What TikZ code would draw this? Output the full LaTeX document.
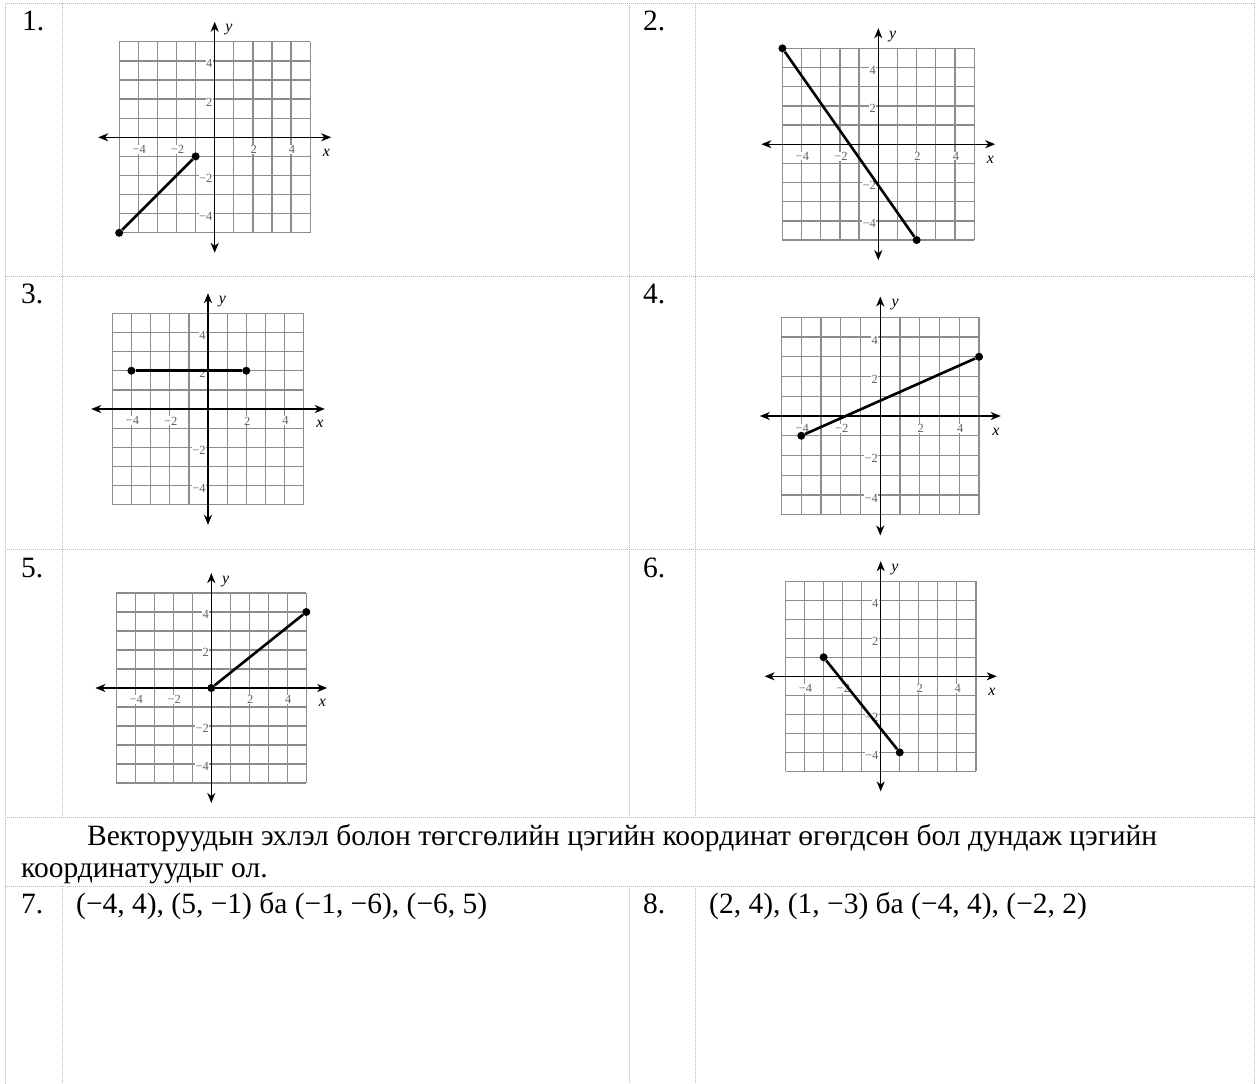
\documentclass[tikz,border=0pt]{standalone}
\usepackage{fontspec}
\setmainfont{Liberation Serif}
\usetikzlibrary{arrows.meta}
\definecolor{tkc}{RGB}{85,95,120}
\definecolor{grdc}{RGB}{140,140,140}
\definecolor{linc}{RGB}{185,185,185}
\tikzset{grd/.style={draw=grdc,line width=1.3bp},
 ax/.style={arrows={Stealth[length=10bp,width=8bp,inset=3bp]-Stealth[length=10bp,width=8bp,inset=3bp]},line width=1.4bp},
 seg/.style={line width=2.6bp},
 dot/.style={circle,fill,inner sep=0pt,minimum size=8bp},
 tk/.style={font=\fontsize{12.5}{12.5}\selectfont,text=tkc,fill=white,inner sep=0.3bp},
 axl/.style={font=\fontsize{16}{16}\selectfont\itshape,inner sep=0pt},
 num/.style={font=\fontsize{29.6}{34}\selectfont,anchor=base west,inner sep=0pt},
 cell/.style={draw=linc,line width=0.7bp,dash pattern=on 1bp off 1bp}}

\begin{document}
\begin{tikzpicture}[x=1bp,y=-1bp]
\useasboundingbox (0,0) rectangle (1259,1084);
% table lines
\foreach \r in {3,276,549,817,886}
  \draw[cell] (5,\r) -- (1254,\r);
\draw[cell] (5,3) -- (5,1084);
\draw[cell] (1254,3) -- (1254,1084);
\foreach \c in {62.5,629.5,695.5}{
  \draw[cell] (\c,3) -- (\c,817);
  \draw[cell] (\c,886) -- (\c,1084);}
% item numbers
\node[num] (n1) at (22,30) {1.};
\node[num] (n2) at (643,30) {2.};
\node[num] (n3) at (21,303) {3.};
\node[num] (n4) at (643,303) {4.};
\node[num] (n5) at (21,577) {5.};
\node[num] (n6) at (643,577) {6.};
\node[num] (n7) at (21,913) {7.};
\node[num] (n8) at (643,913) {8.};
% coordinate grids
\foreach \ox/\oy/\u/\xa/\ya/\xb/\yb/\k in {214.7/137.3/19.1/-5/-5/-1/-1/1,
  878.3/144.2/19.17/-5/5/2/-5/2, 208/409/19.15/-4/2/2/2/3,
  880.3/416/19.75/-4/-1/5/3/4, 211.3/688/19/0/0/5/4/5,
  880.7/676.3/19.03/-3/1/1/-4/6}{
\begin{scope}[shift={(\ox,\oy)},x=\u bp,y=\u bp]
\draw[grd,step=1] (-5,-5) grid (5,5);
\draw[ax] (-6.1,0) -- (6.1,0);
\draw[ax] (0,-6.05) -- (0,6.05);
\foreach \v/\s in {-4/−4,-2/−2,2/2,4/4}{
  \node[tk] at (\v+0.05,-0.62) {\s};
  \node[tk,anchor=east] at (-0.1,\v-0.15) {\s};}
\node[axl] (x\k) at (5.85,-0.8) {x};
\node[axl] (y\k) at (0.75,5.62) {y};
\node[dot] (a\k) at (\xa,\ya) {};
\node[dot] (b\k) at (\xb,\yb) {};
\draw[seg] (a\k) -- (b\k);
\end{scope}}
% task text
\node[num] (tA) at (87,845) {Векторуудын эхлэл болон төгсгөлийн цэгийн координат өгөгдсөн бол дундаж цэгийн};
\node[num] (tB) at (21,877) {координатуудыг ол.};
\node[num] (t7) at (76,913) {(−4, 4), (5, −1) ба (−1, −6), (−6, 5)};
\node[num] (t8) at (709,913) {(2, 4), (1, −3) ба (−4, 4), (−2, 2)};
\end{tikzpicture}
\end{document}
